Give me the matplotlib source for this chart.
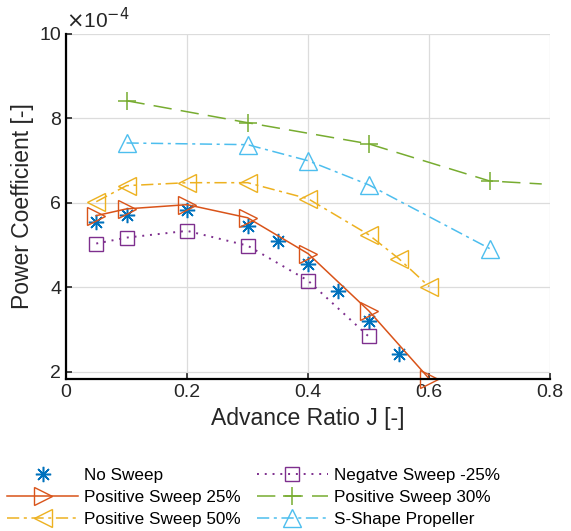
import numpy as np
from matplotlib import pyplot as plt

plt.rcParams['font.family'] = ['Liberation Sans', 'DejaVu Sans']

# power coefficient values in units of 1e-4
j_none = [0.05, 0.1, 0.2, 0.3, 0.35, 0.4, 0.45, 0.5, 0.55]
cp_none = [5.56, 5.72, 5.84, 5.46, 5.10, 4.56, 3.92, 3.21, 2.43]

j_p25 = [0.05, 0.1, 0.2, 0.3, 0.4, 0.5, 0.6]
cp_p25 = [5.70, 5.86, 5.96, 5.65, 4.80, 3.45, 1.84]

j_p50 = [0.05, 0.1, 0.2, 0.3, 0.4, 0.5, 0.55, 0.6]
cp_p50 = [6.03, 6.41, 6.48, 6.48, 6.10, 5.25, 4.68, 4.02]

j_n25 = [0.05, 0.1, 0.2, 0.3, 0.4, 0.5]
cp_n25 = [5.04, 5.18, 5.34, 4.99, 4.16, 2.84]

j_p30 = [0.1, 0.3, 0.5, 0.7, 0.786]
cp_p30 = [8.42, 7.90, 7.40, 6.52, 6.45]

j_s = [0.1, 0.3, 0.4, 0.5, 0.7]
cp_s = [7.42, 7.38, 7.00, 6.43, 4.92]

c_blue = (0, 0.447, 0.741)
c_orange = (0.85, 0.325, 0.098)
c_yellow = (0.929, 0.694, 0.125)
c_purple = (0.494, 0.184, 0.556)
c_green = (0.466, 0.674, 0.188)
c_cyan = (0.301, 0.745, 0.933)

fig = plt.figure(figsize=(5.71, 5.31), dpi=100)
ax = fig.add_axes([0.1156, 0.286, 0.848, 0.65])

ax.plot(j_none, cp_none, linestyle='none', marker=(8, 2, 0), color=c_blue,
        markersize=11, markeredgewidth=1.1, label='No Sweep', clip_on=False)
ax.plot(j_p25, cp_p25, '-', marker='>', color=c_orange, markersize=13,
        markerfacecolor='none', linewidth=1.1, label='Positive Sweep 25%', clip_on=False)
ax.plot(j_p50, cp_p50, linestyle=(0, (8, 3, 2, 3)), marker='<', color=c_yellow,
        markersize=13, markerfacecolor='none', linewidth=1.1, label='Positive Sweep 50%')
ax.plot(j_n25, cp_n25, linestyle=(0, (1, 3)), marker='s', color=c_purple,
        markersize=10, markerfacecolor='none', linewidth=1.4, label='Negatve Sweep -25%')
ax.plot(j_p30, cp_p30, linestyle=(0, (12, 6)), marker='+', color=c_green,
        markersize=13, markeredgewidth=1.1, linewidth=1.1,
        markevery=[0, 1, 2, 3], label='Positive Sweep 30%')
ax.plot(j_s, cp_s, linestyle=(0, (8, 3, 2, 3)), marker='^', color=c_cyan,
        markersize=13, markerfacecolor='none', linewidth=1.1, label='S-Shape Propeller')

ax.set_xlim(0, 0.8)
ax.set_ylim(1.83, 10)
ax.set_xticks([0, 0.2, 0.4, 0.6, 0.8])
ax.set_xticklabels(['0', '0.2', '0.4', '0.6', '0.8'])
ax.set_yticks([2, 4, 6, 8, 10])
ax.grid(True, color='#dcdcdc', linewidth=0.9)
ax.set_axisbelow(True)
ax.spines['top'].set_visible(False)
ax.spines['right'].set_visible(False)
ax.spines['left'].set_linewidth(1.6)
ax.spines['bottom'].set_linewidth(1.6)
ax.tick_params(direction='in', length=4, width=1.2, labelsize=14, colors='#262626')
ax.set_xlabel('Advance Ratio J [-]', fontsize=16.5, color='#262626')
ax.set_ylabel('Power Coefficient [-]', fontsize=16.5, color='#262626')
ax.text(0.0, 1.005, r'$\times$10$^{-4}$', transform=ax.transAxes, fontsize=15,
        ha='left', va='bottom', color='#262626')

fig.legend(*ax.get_legend_handles_labels(), loc='upper left',
           bbox_to_anchor=(0.0123, 0.119), ncol=2, frameon=False,
           fontsize=12.3, handlelength=4.16, columnspacing=0.94, labelspacing=0.42,
           handletextpad=0.35, borderpad=0, borderaxespad=0)

fig.savefig('out.png', dpi=100)
